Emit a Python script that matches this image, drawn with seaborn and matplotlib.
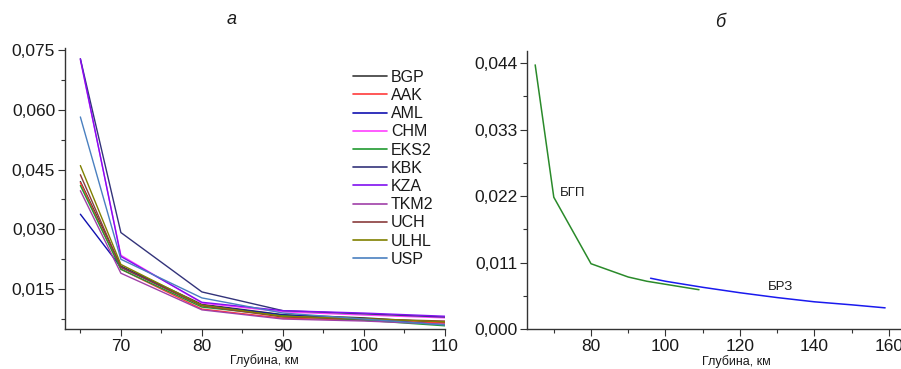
import numpy as np
import pandas as pd
import seaborn as sns
import matplotlib
matplotlib.use('Agg')
import matplotlib.pyplot as plt
from matplotlib.ticker import FixedLocator, FuncFormatter, MultipleLocator

# panel a: stations, depth (km) and values
depth_a = [65, 70, 80, 90, 100, 110]
stations = ['BGP', 'AAK', 'AML', 'CHM', 'EKS2', 'KBK', 'KZA', 'TKM2', 'UCH', 'ULHL', 'USP']
bgp = [0.0420, 0.0208, 0.0112, 0.0086, 0.0078, 0.0066]
aak = [0.0417, 0.0200, 0.0100, 0.0077, 0.0072, 0.0065]
aml = [0.0338, 0.0205, 0.0110, 0.0085, 0.0075, 0.0060]
chm = [0.0725, 0.0235, 0.0115, 0.0093, 0.0085, 0.0078]
eks2 = [0.0410, 0.0200, 0.0105, 0.0083, 0.0072, 0.0058]
kbk = [0.0728, 0.0292, 0.0143, 0.0096, 0.0088, 0.0080]
kza = [0.0728, 0.0232, 0.0117, 0.0096, 0.0090, 0.0082]
tkm2 = [0.0397, 0.0190, 0.0098, 0.0075, 0.0070, 0.0062]
uch = [0.0437, 0.0205, 0.0108, 0.0080, 0.0075, 0.0070]
ulhl = [0.0460, 0.0212, 0.0110, 0.0082, 0.0076, 0.0068]
usp = [0.0582, 0.0225, 0.0128, 0.0090, 0.0075, 0.0060]
colors_a = ['#3a3a3a', '#ff3b3b', '#1010b0', '#ff40ff', '#209a30', '#33337a',
            '#8010f0', '#a040a8', '#8a3c3c', '#808000', '#4a80c0']

# panel b
depth_bgp = [65, 70, 80, 90, 95, 100, 105, 109]
vals_bgp = [0.0437, 0.0218, 0.0108, 0.0086, 0.0079, 0.0074, 0.0069, 0.0065]
depth_brz = [96, 100, 110, 120, 130, 140, 150, 159]
vals_brz = [0.0084, 0.0079, 0.0069, 0.0060, 0.0052, 0.0045, 0.0040, 0.0035]

sns.set_style('ticks')
plt.rcParams['font.family'] = ['Liberation Sans', 'DejaVu Sans']
plt.rcParams['text.color'] = '#1a1a1a'
plt.rcParams['xtick.color'] = '#1a1a1a'
plt.rcParams['ytick.color'] = '#1a1a1a'

rows = []
for name, vals in zip(stations, [bgp, aak, aml, chm, eks2, kbk, kza, tkm2, uch, ulhl, usp]):
    for d, v in zip(depth_a, vals):
        rows.append({'depth': d, 'val': v, 'station': name})
df_a = pd.DataFrame(rows)

fig = plt.figure(figsize=(9.01, 3.69), dpi=100)
ax1 = fig.add_axes([0.0721, 0.1084, 0.4218, 0.7615])
ax2 = fig.add_axes([0.5849, 0.1084, 0.4140, 0.7534])

sns.lineplot(data=df_a, x='depth', y='val', hue='station', hue_order=stations,
             palette=colors_a, linewidth=1.0, ax=ax1, sort=False)

df_b1 = pd.DataFrame({'depth': depth_bgp, 'val': vals_bgp})
df_b2 = pd.DataFrame({'depth': depth_brz, 'val': vals_brz})
sns.lineplot(data=df_b1, x='depth', y='val', color='#2a8a2a', linewidth=1.1, ax=ax2)
sns.lineplot(data=df_b2, x='depth', y='val', color='#1a1aee', linewidth=1.1, ax=ax2)

comma = FuncFormatter(lambda v, p: f'{v:.3f}'.replace('.', ','))

ax1.set_xlim(63.1, 110)
ax1.set_ylim(0.005, 0.0755)
ax1.yaxis.set_major_locator(FixedLocator([0.015, 0.030, 0.045, 0.060, 0.075]))
ax1.yaxis.set_minor_locator(FixedLocator([0.0075, 0.0225, 0.0375, 0.0525, 0.0675]))
ax1.xaxis.set_major_locator(FixedLocator([70, 80, 90, 100, 110]))
ax1.xaxis.set_minor_locator(FixedLocator([65, 75, 85, 95, 105]))
ax1.yaxis.set_major_formatter(comma)

ax2.set_xlim(62.8, 163)
ax2.set_ylim(0, 0.046)
ax2.yaxis.set_major_locator(FixedLocator([0, 0.011, 0.022, 0.033, 0.044]))
ax2.yaxis.set_minor_locator(FixedLocator([0.0055, 0.0165, 0.0275, 0.0385]))
ax2.xaxis.set_major_locator(MultipleLocator(20))
ax2.xaxis.set_minor_locator(FixedLocator([70, 90, 110, 130, 150]))
ax2.yaxis.set_major_formatter(comma)

for ax in (ax1, ax2):
    sns.despine(ax=ax)
    ax.set_xlabel('')
    ax.set_ylabel('')
    ax.tick_params(which='major', length=5, width=0.8, labelsize=12.5, pad=2, color='#333333')
    ax.tick_params(which='minor', length=3, width=0.8, color='#333333')
    for s in ('left', 'bottom'):
        ax.spines[s].set_linewidth(1.0)
        ax.spines[s].set_color('#333333')

leg = ax1.legend(loc='upper left', bbox_to_anchor=(0.742, 0.945), frameon=False,
                 fontsize=11.5, handlelength=2.1, handletextpad=0.25, labelspacing=0.2,
                 borderaxespad=0)
for line in leg.get_lines():
    line.set_linewidth(1.2)

ax2.text(71.7, 0.0225, 'БГП', fontsize=9.5, va='center', ha='left')
ax2.text(127.5, 0.0069, 'БРЗ', fontsize=9.5, va='center', ha='left')

fig.text(0.2575, 0.946, 'а', fontsize=13, style='italic', ha='center', va='center')
fig.text(0.799, 0.938, 'б', fontsize=13, style='italic', ha='center', va='center')
fig.text(0.293, 0.022, 'Глубина, км', fontsize=9, ha='center', va='center')
fig.text(0.817, 0.020, 'Глубина, км', fontsize=9, ha='center', va='center')

fig.savefig('out.png', dpi=100)
